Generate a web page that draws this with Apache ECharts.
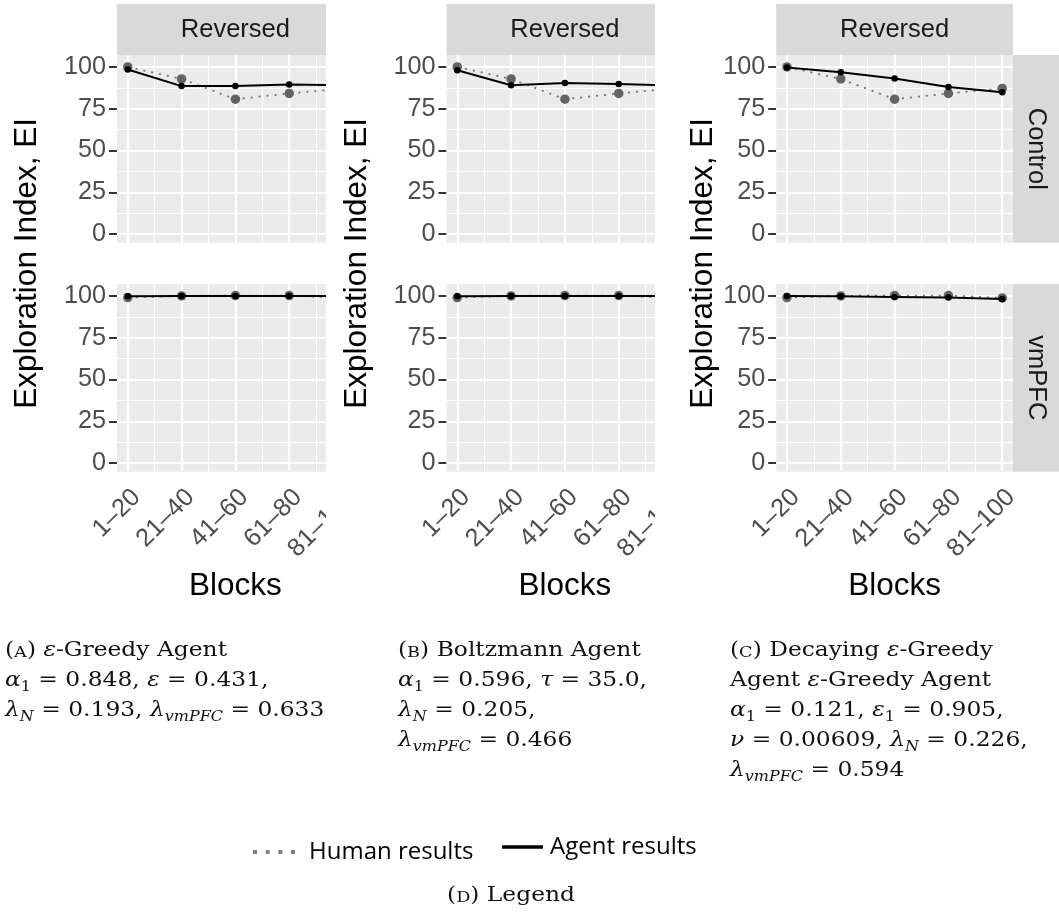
<!DOCTYPE html>
<html>
<head>
<meta charset="utf-8">
<script src="https://cdn.jsdelivr.net/npm/echarts@6/dist/echarts.min.js"></script>
<style>
  html, body { margin: 0; padding: 0; background: #ffffff; }
  #chart { width: 1059px; height: 924px; }
</style>
</head>
<body>
<div id="chart"></div>
<script>
// Block labels along the x axis (positions 1..5)
const blockLabels = ['1–20', '21–40', '41–60', '61–80', '81–100'];
const blockPositions = [1, 2, 3, 4, 5];
const blockMinor = [1.5, 2.5, 3.5, 4.5];
const yTicks = [0, 25, 50, 75, 100];
const yMinor = [12.5, 37.5, 62.5, 87.5];

// Exploration index of the human participants
const humanControl = [100.0, 92.8, 80.7, 84.1, 87.1];
const humanVmpfc = [99.0, 100.0, 100.2, 100.2, 98.8];

// Exploration index of the fitted agents
const greedyControl = [98.4, 88.5, 88.5, 89.4, 89.0];
const greedyVmpfc = [99.8, 99.9, 99.9, 99.9, 99.9];
const boltzmannControl = [98.0, 89.0, 90.3, 89.7, 88.8];
const boltzmannVmpfc = [99.8, 99.9, 99.9, 99.9, 99.9];
const decayingControl = [99.6, 96.8, 93.0, 88.0, 84.9];
const decayingVmpfc = [99.9, 99.8, 99.4, 99.0, 98.2];

const rowNames = ['Control', 'vmPFC'];
const stripName = 'Reversed';
const yTitle = 'Exploration Index, EI';
const xTitle = 'Blocks';

const SANS = "'Liberation Sans', Arial, sans-serif";
const SERIF = "'DejaVu Serif', 'Liberation Serif', serif";
const LEG = "'Open Sans', 'Noto Sans', sans-serif";

// Panel layout (pixels)
const colLeft = [117, 446.5, 776.2];
const panelW = 236.8;
const cropRight = [326, 655, null];
const rowTop = [55, 284];
const panelH = 187.7;
const stripTop = 4, stripH = 51;
const titleX = [27, 357, 703];
const captionStretch = 1.14;

const panels = [
  { control: greedyControl, vmpfc: greedyVmpfc },
  { control: boltzmannControl, vmpfc: boltzmannVmpfc },
  { control: decayingControl, vmpfc: decayingVmpfc }
];

const toPoints = arr => arr.map((v, i) => [blockPositions[i], v]);

const grid = [], xAxis = [], yAxis = [], series = [];

panels.forEach((p, c) => {
  [p.control, p.vmpfc].forEach((agent, r) => {
    const g = c * 2 + r;
    const human = r === 0 ? humanControl : humanVmpfc;
    grid.push({
      left: colLeft[c], top: rowTop[r], width: panelW, height: panelH,
      show: true, backgroundColor: '#EBEBEB', borderWidth: 0, borderColor: 'transparent'
    });
    xAxis.push({
      gridIndex: g, type: 'value', min: 0.8, max: 5.2,
      axisLine: { show: false },
      splitLine: { show: false },
      axisTick: { show: r === 1, customValues: blockPositions, length: 8,
        lineStyle: { color: '#333333', width: 2 } },
      axisLabel: { show: r === 1, customValues: blockPositions,
        formatter: v => blockLabels[Math.round(v) - 1],
        rotate: 45, align: 'right', verticalAlign: 'top', margin: 13,
        fontSize: 25.2, color: '#4D4D4D', fontFamily: SANS }
    });
    yAxis.push({
      gridIndex: g, type: 'value', min: -5.1, max: 107.1,
      axisLine: { show: false },
      splitLine: { show: false },
      axisTick: { show: true, customValues: yTicks, length: 8,
        lineStyle: { color: '#333333', width: 2 } },
      axisLabel: { customValues: yTicks, margin: 11, fontSize: 25.2,
        color: '#4D4D4D', fontFamily: SANS }
    });
    // white panel grid lines
    const major = { color: '#FFFFFF', width: 2.2, type: 'solid' };
    const minor = { color: '#FFFFFF', width: 1.1, type: 'solid' };
    series.push({
      type: 'line', xAxisIndex: g, yAxisIndex: g, z: 1, silent: true,
      data: toPoints(human), symbol: 'none', lineStyle: { opacity: 0 },
      tooltip: { show: false },
      markLine: {
        silent: true, z: 1, animation: false, symbol: ['none', 'none'],
        label: { show: false }, emphasis: { disabled: true },
        data: [
          ...yMinor.map(v => ({ yAxis: v, lineStyle: minor })),
          ...blockMinor.map(v => ({ xAxis: v, lineStyle: minor })),
          ...yTicks.map(v => ({ yAxis: v, lineStyle: major })),
          ...blockPositions.map(v => ({ xAxis: v, lineStyle: major }))
        ]
      }
    });
    series.push({
      name: 'Human results', type: 'line', xAxisIndex: g, yAxisIndex: g, z: 3,
      data: toPoints(human), symbol: 'circle', symbolSize: 9.5, showAllSymbol: true,
      itemStyle: { color: '#636363' },
      lineStyle: { color: '#737373', width: 1.8, type: [2, 6] },
      emphasis: { disabled: true }
    });
    series.push({
      name: 'Agent results', type: 'line', xAxisIndex: g, yAxisIndex: g, z: 4,
      data: toPoints(agent), symbol: 'circle', symbolSize: 6.5, showAllSymbol: true,
      itemStyle: { color: '#000000' },
      lineStyle: { color: '#000000', width: 2 },
      emphasis: { disabled: true }
    });
  });
});

// strips, titles, crop covers
const graphic = [];
colLeft.forEach((left, c) => {
  graphic.push({ type: 'rect', z: 5, shape: { x: left, y: stripTop, width: panelW, height: stripH },
    style: { fill: '#D9D9D9' } });
  graphic.push({ type: 'text', z: 6, x: left + panelW / 2, y: stripTop + stripH / 2,
    style: { text: stripName, fontFamily: SANS, fontSize: 25.5, fill: '#1A1A1A',
      align: 'center', verticalAlign: 'middle' } });
  if (cropRight[c] !== null) {
    graphic.push({ type: 'rect', z: 50,
      shape: { x: cropRight[c], y: 0, width: left + panelW - cropRight[c] + 2, height: 566 },
      style: { fill: '#FFFFFF' } });
  }
  graphic.push({ type: 'text', z: 60, x: titleX[c], y: (rowTop[0] + rowTop[1] + panelH) / 2,
    rotation: Math.PI / 2,
    style: { text: yTitle, fontFamily: SANS, fontSize: 31.5, fill: '#000000',
      align: 'center', verticalAlign: 'middle' } });
  graphic.push({ type: 'text', z: 60, x: left + panelW / 2, y: 586,
    style: { text: xTitle, fontFamily: SANS, fontSize: 31.5, fill: '#000000',
      align: 'center', verticalAlign: 'middle' } });
});
rowTop.forEach((top, r) => {
  const x0 = colLeft[2] + panelW;
  graphic.push({ type: 'rect', z: 5, shape: { x: x0, y: top, width: 50, height: panelH },
    style: { fill: '#D9D9D9' } });
  graphic.push({ type: 'text', z: 6, x: x0 + 23, y: top + panelH / 2, rotation: -Math.PI / 2,
    style: { text: rowNames[r], fontFamily: SANS, fontSize: 25.5, fill: '#1A1A1A',
      align: 'center', verticalAlign: 'middle' } });
});

// sub-figure captions
const capBase = { fontFamily: SERIF, fontSize: 20.5, color: '#111111', lineHeight: 30, verticalAlign: 'middle' };
const capRich = {
  n: Object.assign({}, capBase),
  i: Object.assign({}, capBase, { fontStyle: 'italic' }),
  sc: Object.assign({}, capBase, { fontSize: 15.5, lineHeight: 19, padding: [4, 0, 0, 0] }),
  sub: Object.assign({}, capBase, { fontSize: 14, lineHeight: 16, padding: [12, 0, 0, 0] }),
  subi: Object.assign({}, capBase, { fontSize: 14, lineHeight: 16, padding: [12, 0, 0, 0], fontStyle: 'italic' })
};
const captions = [
  { x: 5, lines: [
    '{n|(}{sc|A}{n|) }{i|ε}{n|-Greedy Agent}',
    '{i|α}{sub|1}{n| = 0.848, }{i|ε}{n| = 0.431,}',
    '{i|λ}{subi|N}{n| = 0.193, }{i|λ}{subi|vmPFC}{n| = 0.633}'
  ] },
  { x: 398, lines: [
    '{n|(}{sc|B}{n|) Boltzmann Agent}',
    '{i|α}{sub|1}{n| = 0.596, }{i|τ}{n| = 35.0,}',
    '{i|λ}{subi|N}{n| = 0.205,}',
    '{i|λ}{subi|vmPFC}{n| = 0.466}'
  ] },
  { x: 730, lines: [
    '{n|(}{sc|C}{n|) Decaying }{i|ε}{n|-Greedy}',
    '{n|Agent }{i|ε}{n|-Greedy Agent}',
    '{i|α}{sub|1}{n| = 0.121, }{i|ε}{sub|1}{n| = 0.905,}',
    '{i|ν}{n| = 0.00609, }{i|λ}{subi|N}{n| = 0.226,}',
    '{i|λ}{subi|vmPFC}{n| = 0.594}'
  ] }
];
captions.forEach(cap => {
  graphic.push({ type: 'text', z: 60, x: cap.x, y: 636, scaleX: captionStretch,
    style: { text: cap.lines.join('\n'), rich: capRich, fontFamily: SERIF, fontSize: 20.5,
      lineHeight: 30, fill: '#111111', align: 'left', verticalAlign: 'top' } });
});
graphic.push({ type: 'text', z: 60, x: 511, y: 881, scaleX: captionStretch,
  style: { text: '{n|(}{sc|D}{n|) Legend}', rich: capRich, fontFamily: SERIF, fontSize: 20.5,
    lineHeight: 30, fill: '#111111', align: 'center', verticalAlign: 'top' } });

const chart = echarts.init(document.getElementById('chart'), null, { renderer: 'canvas' });
chart.setOption({
  animation: false,
  backgroundColor: '#FFFFFF',
  textStyle: { fontFamily: SANS },
  grid, xAxis, yAxis, series, graphic,
  legend: [
    { data: ['Human results'], left: 248, top: 835, selectedMode: false,
      icon: 'path://M0,0h4v4h-4zM12.7,0h4v4h-4zM25.3,0h4v4h-4zM38,0h4v4h-4z',
      itemWidth: 42, itemHeight: 4, itemStyle: { color: '#808080' },
      textStyle: { fontFamily: LEG, fontSize: 24, color: '#000000', padding: [0, 0, 0, 9] } },
    { data: ['Agent results'], left: 497, top: 830, selectedMode: false,
      icon: 'rect', itemWidth: 41, itemHeight: 3.5, itemStyle: { color: '#000000' },
      textStyle: { fontFamily: LEG, fontSize: 24, color: '#000000', padding: [0, 0, 0, 2] } }
  ]
});
</script>
</body>
</html>
